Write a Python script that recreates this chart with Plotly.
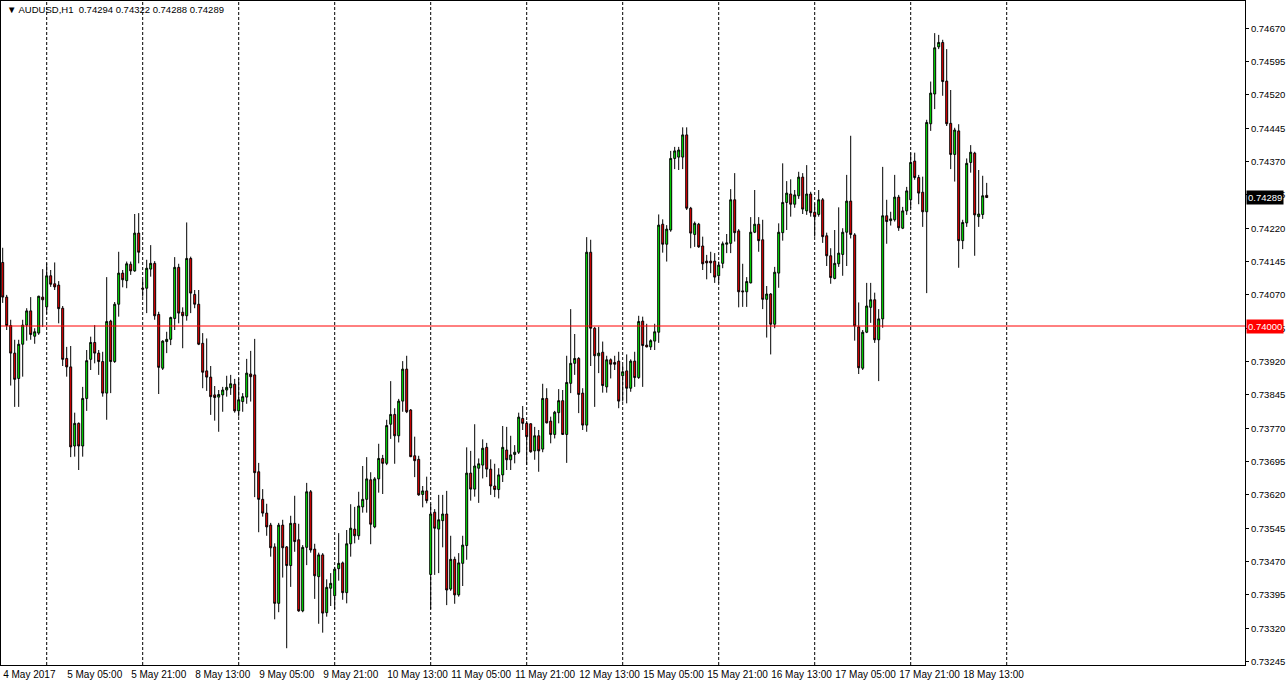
import plotly.graph_objects as go

# ---------------- data (AUDUSD, H1) ----------------
opens = [0.74143, 0.74065, 0.74001, 0.73939, 0.73882, 0.73959, 0.74002, 0.74034, 0.73977, 0.73984,
         0.74065, 0.74043, 0.74113, 0.74095, 0.74092, 0.74040, 0.73927, 0.73908, 0.73730, 0.73781,
         0.73730, 0.73837, 0.73925, 0.73963, 0.73939, 0.73920, 0.73849, 0.74011, 0.73920, 0.74049,
         0.74119, 0.74102, 0.74139, 0.74124, 0.74209, 0.74085, 0.74085, 0.74128, 0.74141, 0.74026,
         0.73905, 0.73965, 0.73970, 0.74017, 0.74132, 0.74031, 0.74023, 0.74152, 0.74071, 0.74049,
         0.73961, 0.73899, 0.73885, 0.73845, 0.73840, 0.73845, 0.73856, 0.73861, 0.73869, 0.73809,
         0.73830, 0.73840, 0.73892, 0.73890, 0.73672, 0.73610, 0.73579, 0.73552, 0.73503, 0.73376,
         0.73552, 0.73503, 0.73461, 0.73556, 0.73519, 0.73359, 0.73502, 0.73627, 0.73498, 0.73436,
         0.73485, 0.73355, 0.73410, 0.73393, 0.73454, 0.73467, 0.73400, 0.73510, 0.73543, 0.73528,
         0.73593, 0.73610, 0.73654, 0.73548, 0.73656, 0.73702, 0.73691, 0.73779, 0.73801, 0.73753,
         0.73831, 0.73903, 0.73811, 0.73708, 0.73700, 0.73621, 0.73629, 0.73441, 0.73581, 0.73543,
         0.73562, 0.73577, 0.73408, 0.73475, 0.73395, 0.73466, 0.73506, 0.73669, 0.73633, 0.73680,
         0.73687, 0.73727, 0.73678, 0.73640, 0.73632, 0.73665, 0.73721, 0.73699, 0.73711, 0.73716,
         0.73792, 0.73781, 0.73780, 0.73719, 0.73753, 0.73723, 0.73837, 0.73786, 0.73756, 0.73805,
         0.73832, 0.73756, 0.73871, 0.73916, 0.73927, 0.73849, 0.73777, 0.74166, 0.73995, 0.73933,
         0.73941, 0.73863, 0.73924, 0.73918, 0.73921, 0.73888, 0.73899, 0.73860, 0.73921, 0.73884,
         0.74011, 0.73957, 0.73953, 0.73966, 0.73986, 0.74229, 0.74184, 0.74216, 0.74377, 0.74380,
         0.74380, 0.74430, 0.74265, 0.74206, 0.74229, 0.74180, 0.74146, 0.74146, 0.74146, 0.74113,
         0.74141, 0.74184, 0.74186, 0.74284, 0.74214, 0.74079, 0.74077, 0.74097, 0.74211, 0.74229,
         0.74194, 0.74060, 0.74072, 0.74004, 0.74119, 0.74210, 0.74278, 0.74297, 0.74274, 0.74293,
         0.74335, 0.74259, 0.74297, 0.74256, 0.74251, 0.74284, 0.74203, 0.74158, 0.74107, 0.74140,
         0.74161, 0.74211, 0.74281, 0.74205, 0.73998, 0.73905, 0.73986, 0.74042, 0.74059, 0.73969,
         0.74016, 0.74248, 0.74237, 0.74239, 0.74290, 0.74220, 0.74259, 0.74284, 0.74371, 0.74334,
         0.74301, 0.74257, 0.74455, 0.74522, 0.74628, 0.74638, 0.74551, 0.74456, 0.74386, 0.74439,
         0.74192, 0.74232, 0.74368, 0.74389, 0.74246, 0.74251, 0.74294]

highs = [0.74176, 0.74070, 0.74014, 0.73969, 0.73969, 0.74014, 0.74040, 0.74065, 0.73995, 0.74068,
         0.74128, 0.74141, 0.74126, 0.74143, 0.74101, 0.74045, 0.73953, 0.73955, 0.73805, 0.73783,
         0.73863, 0.73946, 0.73976, 0.74002, 0.73946, 0.73942, 0.74110, 0.74014, 0.74054, 0.74167,
         0.74126, 0.74145, 0.74145, 0.74252, 0.74254, 0.74104, 0.74149, 0.74182, 0.74146, 0.74032,
         0.73968, 0.73987, 0.74021, 0.74155, 0.74140, 0.74042, 0.74233, 0.74156, 0.74081, 0.74081,
         0.73984, 0.73972, 0.73910, 0.73865, 0.73856, 0.73863, 0.73888, 0.73890, 0.73881, 0.73882,
         0.73849, 0.73926, 0.73944, 0.73971, 0.73692, 0.73633, 0.73600, 0.73557, 0.73511, 0.73557,
         0.73564, 0.73505, 0.73573, 0.73618, 0.73555, 0.73507, 0.73647, 0.73631, 0.73510, 0.73490,
         0.73489, 0.73430, 0.73444, 0.73458, 0.73534, 0.73470, 0.73541, 0.73599, 0.73593, 0.73627,
         0.73685, 0.73705, 0.73671, 0.73660, 0.73735, 0.73710, 0.73789, 0.73876, 0.73815, 0.73836,
         0.73921, 0.73933, 0.73813, 0.73751, 0.73708, 0.73640, 0.73661, 0.73600, 0.73588, 0.73620,
         0.73620, 0.73629, 0.73528, 0.73481, 0.73489, 0.73528, 0.73727, 0.73719, 0.73779, 0.73702,
         0.73745, 0.73737, 0.73700, 0.73690, 0.73680, 0.73775, 0.73773, 0.73753, 0.73732, 0.73805,
         0.73820, 0.73786, 0.73781, 0.73773, 0.73766, 0.73870, 0.73860, 0.73796, 0.73809, 0.73858,
         0.73856, 0.73933, 0.74038, 0.73982, 0.73930, 0.73860, 0.74200, 0.74194, 0.73998, 0.73998,
         0.73965, 0.73933, 0.73927, 0.73933, 0.73942, 0.73912, 0.73936, 0.73925, 0.73942, 0.74023,
         0.74021, 0.74005, 0.73970, 0.74005, 0.74251, 0.74240, 0.74227, 0.74394, 0.74403, 0.74403,
         0.74447, 0.74447, 0.74268, 0.74235, 0.74232, 0.74201, 0.74160, 0.74167, 0.74164, 0.74145,
         0.74190, 0.74207, 0.74308, 0.74344, 0.74218, 0.74140, 0.74110, 0.74245, 0.74306, 0.74245,
         0.74239, 0.74090, 0.74074, 0.74133, 0.74231, 0.74366, 0.74326, 0.74330, 0.74306, 0.74347,
         0.74344, 0.74362, 0.74302, 0.74276, 0.74306, 0.74288, 0.74210, 0.74175, 0.74216, 0.74267,
         0.74220, 0.74340, 0.74428, 0.74209, 0.74053, 0.73991, 0.74097, 0.74097, 0.74075, 0.74038,
         0.74358, 0.74284, 0.74257, 0.74340, 0.74295, 0.74268, 0.74313, 0.74390, 0.74390, 0.74340,
         0.74336, 0.74464, 0.74550, 0.74659, 0.74655, 0.74644, 0.74623, 0.74531, 0.74446, 0.74454,
         0.74239, 0.74377, 0.74407, 0.74392, 0.74351, 0.74338, 0.74322]

lows = [0.74052, 0.73991, 0.73866, 0.73818, 0.73818, 0.73886, 0.73967, 0.73969, 0.73960, 0.73980,
        0.73998, 0.74027, 0.74088, 0.74081, 0.74006, 0.73910, 0.73886, 0.73705, 0.73706, 0.73676,
        0.73706, 0.73809, 0.73901, 0.73916, 0.73890, 0.73841, 0.73789, 0.73849, 0.73917, 0.74021,
        0.74087, 0.74085, 0.74115, 0.74122, 0.74141, 0.74066, 0.74029, 0.74111, 0.74014, 0.73847,
        0.73901, 0.73939, 0.73957, 0.73991, 0.74006, 0.73950, 0.74012, 0.74029, 0.74040, 0.73957,
        0.73860, 0.73854, 0.73800, 0.73787, 0.73762, 0.73807, 0.73841, 0.73845, 0.73805, 0.73796,
        0.73807, 0.73825, 0.73830, 0.73615, 0.73536, 0.73571, 0.73528, 0.73481, 0.73340, 0.73356,
        0.73434, 0.73275, 0.73413, 0.73492, 0.73357, 0.73356, 0.73462, 0.73490, 0.73386, 0.73330,
        0.73310, 0.73346, 0.73370, 0.73363, 0.73427, 0.73384, 0.73376, 0.73481, 0.73511, 0.73519,
        0.73580, 0.73580, 0.73509, 0.73545, 0.73625, 0.73622, 0.73687, 0.73746, 0.73690, 0.73738,
        0.73807, 0.73804, 0.73705, 0.73660, 0.73618, 0.73592, 0.73601, 0.73363, 0.73440, 0.73444,
        0.73502, 0.73372, 0.73404, 0.73375, 0.73391, 0.73415, 0.73474, 0.73607, 0.73616, 0.73602,
        0.73657, 0.73660, 0.73620, 0.73615, 0.73612, 0.73649, 0.73676, 0.73676, 0.73691, 0.73712,
        0.73766, 0.73687, 0.73715, 0.73699, 0.73672, 0.73716, 0.73781, 0.73736, 0.73747, 0.73781,
        0.73755, 0.73692, 0.73849, 0.73890, 0.73804, 0.73766, 0.73762, 0.73910, 0.73818, 0.73894,
        0.73850, 0.73850, 0.73882, 0.73901, 0.73815, 0.73830, 0.73826, 0.73852, 0.73863, 0.73881,
        0.73863, 0.73952, 0.73946, 0.73946, 0.73962, 0.74165, 0.74145, 0.74212, 0.74353, 0.74351,
        0.74353, 0.74261, 0.74175, 0.74178, 0.74176, 0.74126, 0.74105, 0.74119, 0.74097, 0.74096,
        0.74130, 0.74164, 0.74164, 0.74190, 0.74042, 0.74043, 0.74043, 0.74096, 0.74209, 0.74167,
        0.74038, 0.73974, 0.73936, 0.73995, 0.74086, 0.74192, 0.74216, 0.74246, 0.74266, 0.74286,
        0.74252, 0.74250, 0.74246, 0.74201, 0.74246, 0.74187, 0.74135, 0.74095, 0.74105, 0.74133,
        0.74113, 0.74135, 0.74197, 0.73967, 0.73892, 0.73901, 0.73984, 0.74007, 0.73962, 0.73876,
        0.73996, 0.74185, 0.74226, 0.74235, 0.74214, 0.74218, 0.74250, 0.74265, 0.74329, 0.74274,
        0.74223, 0.74074, 0.74439, 0.74488, 0.74623, 0.74518, 0.74450, 0.74353, 0.74325, 0.74131,
        0.74173, 0.74223, 0.74345, 0.74158, 0.74223, 0.74241, 0.74288]

closes = [0.74065, 0.74001, 0.73939, 0.73880, 0.73959, 0.74002, 0.74034, 0.73981, 0.73987, 0.74067,
          0.74059, 0.74113, 0.74094, 0.74088, 0.74039, 0.73925, 0.73908, 0.73728, 0.73781, 0.73730,
          0.73837, 0.73922, 0.73963, 0.73939, 0.73920, 0.73849, 0.74010, 0.73920, 0.74049, 0.74119,
          0.74104, 0.74140, 0.74124, 0.74209, 0.74166, 0.74083, 0.74130, 0.74141, 0.74023, 0.73907,
          0.73966, 0.73970, 0.74019, 0.74132, 0.74029, 0.74023, 0.74152, 0.74074, 0.74049, 0.73959,
          0.73896, 0.73885, 0.73841, 0.73839, 0.73846, 0.73856, 0.73862, 0.73870, 0.73809, 0.73834,
          0.73841, 0.73894, 0.73886, 0.73670, 0.73610, 0.73579, 0.73548, 0.73501, 0.73376, 0.73552,
          0.73501, 0.73461, 0.73556, 0.73515, 0.73359, 0.73502, 0.73627, 0.73496, 0.73438, 0.73485,
          0.73354, 0.73412, 0.73421, 0.73453, 0.73466, 0.73400, 0.73510, 0.73545, 0.73528, 0.73595,
          0.73610, 0.73656, 0.73554, 0.73656, 0.73702, 0.73691, 0.73776, 0.73801, 0.73753, 0.73831,
          0.73903, 0.73807, 0.73706, 0.73697, 0.73620, 0.73629, 0.73607, 0.73577, 0.73545, 0.73564,
          0.73577, 0.73406, 0.73475, 0.73395, 0.73467, 0.73507, 0.73669, 0.73633, 0.73685, 0.73690,
          0.73725, 0.73678, 0.73640, 0.73632, 0.73665, 0.73727, 0.73699, 0.73710, 0.73716, 0.73795,
          0.73781, 0.73751, 0.73717, 0.73753, 0.73719, 0.73837, 0.73782, 0.73756, 0.73806, 0.73832,
          0.73756, 0.73873, 0.73916, 0.73927, 0.73846, 0.73777, 0.74166, 0.73995, 0.73933, 0.73939,
          0.73866, 0.73924, 0.73914, 0.73914, 0.73831, 0.73897, 0.73860, 0.73921, 0.73884, 0.74010,
          0.73956, 0.73953, 0.73967, 0.73987, 0.74227, 0.74184, 0.74218, 0.74377, 0.74394, 0.74396,
          0.74430, 0.74265, 0.74209, 0.74231, 0.74178, 0.74140, 0.74142, 0.74142, 0.74110, 0.74137,
          0.74185, 0.74187, 0.74284, 0.74210, 0.74077, 0.74077, 0.74100, 0.74211, 0.74229, 0.74192,
          0.74060, 0.74072, 0.74004, 0.74121, 0.74211, 0.74278, 0.74299, 0.74274, 0.74295, 0.74335,
          0.74263, 0.74297, 0.74255, 0.74246, 0.74284, 0.74201, 0.74158, 0.74109, 0.74141, 0.74164,
          0.74211, 0.74281, 0.74206, 0.74000, 0.73906, 0.73986, 0.74045, 0.74059, 0.73969, 0.74016,
          0.74248, 0.74235, 0.74241, 0.74290, 0.74221, 0.74259, 0.74304, 0.74368, 0.74334, 0.74299,
          0.74257, 0.74458, 0.74524, 0.74626, 0.74638, 0.74550, 0.74455, 0.74386, 0.74441, 0.74192,
          0.74233, 0.74366, 0.74391, 0.74250, 0.74252, 0.74293, 0.74289]

bar_index = list(range(len(opens)))

time_tick_bars = [0, 16, 32, 48, 64, 80, 96, 112, 128, 144, 160, 176, 192, 208, 224, 240]
time_tick_labels = ["4 May 2017", "5 May 05:00", "5 May 21:00", "8 May 13:00", "9 May 05:00",
                    "9 May 21:00", "10 May 13:00", "11 May 05:00", "11 May 21:00", "12 May 13:00",
                    "15 May 05:00", "15 May 21:00", "16 May 13:00", "17 May 05:00", "17 May 21:00",
                    "18 May 13:00"]
day_start_bars = [11, 35, 59, 83, 107, 131, 155, 179, 203, 227, 251]

price_ticks = [0.74670, 0.74595, 0.74520, 0.74445, 0.74370, 0.74295, 0.74220, 0.74145, 0.74070,
               0.73995, 0.73920, 0.73845, 0.73770, 0.73695, 0.73620, 0.73545, 0.73470, 0.73395,
               0.73320, 0.73245]

symbol_title = "AUDUSD,H1"
level_price = 0.74000
last_price = closes[-1]

FONT = "Liberation Sans"

fig = go.Figure()
fig.add_trace(go.Candlestick(
    x=bar_index, open=opens, high=highs, low=lows, close=closes,
    increasing=dict(fillcolor="#00ff00", line=dict(color="black", width=1)),
    decreasing=dict(fillcolor="#ff0000", line=dict(color="black", width=1)),
    whiskerwidth=0, hoverinfo="skip", showlegend=False,
))

shapes = []
for b in day_start_bars:
    shapes.append(dict(type="line", xref="x", yref="paper", x0=b, x1=b, y0=0, y1=1,
                       line=dict(color="black", width=1, dash="3px,2px"), layer="below"))
shapes.append(dict(type="line", xref="paper", yref="y", x0=0, x1=1, y0=level_price, y1=level_price,
                   line=dict(color="#ff0000", width=1), layer="above"))

header = "\u25BC " + symbol_title + "\u00a0\u00a0" + " ".join(
    f"{v:.5f}" for v in (opens[-1], highs[-1], lows[-1], closes[-1]))

annotations = [
    dict(xref="paper", yref="paper", x=0, y=1, xanchor="left", yanchor="top", xshift=4, yshift=-1,
         text=header, showarrow=False, font=dict(family=FONT, size=9.5, color="black")),
    dict(xref="paper", yref="y", x=1, y=last_price, xanchor="left", yanchor="middle", xshift=1,
         text=f"{last_price:.5f}", showarrow=False, bgcolor="black", borderpad=1,
         font=dict(family=FONT, size=9.5, color="white")),
    dict(xref="paper", yref="y", x=1, y=level_price, xanchor="left", yanchor="middle", xshift=1,
         text=f"{level_price:.5f}", showarrow=False, bgcolor="#ff0000", borderpad=1,
         font=dict(family=FONT, size=9.5, color="white")),
]

fig.update_layout(
    width=1288, height=687, autosize=False,
    margin=dict(l=1, r=43, t=1, b=22, pad=0, autoexpand=False),
    paper_bgcolor="white", plot_bgcolor="white",
    showlegend=False,
    shapes=shapes, annotations=annotations,
    xaxis=dict(range=[-0.425, 310.575], tickmode="array", tickvals=time_tick_bars,
               ticktext=time_tick_labels, ticklabelposition="outside right", tickangle=0,
               automargin=False,
               showgrid=False, zeroline=False, showline=True, mirror=True,
               linecolor="black", linewidth=1, ticks="",
               tickfont=dict(family=FONT, size=10, color="black"),
               rangeslider=dict(visible=False), fixedrange=True),
    yaxis=dict(side="right", range=[0.7323725, 0.7473125], tickmode="array", automargin=False,
               tickvals=price_ticks, tickformat=".5f", ticks="outside", ticklen=3,
               tickcolor="black", showgrid=False, zeroline=False, showline=True, mirror=True,
               linecolor="black", linewidth=1,
               tickfont=dict(family=FONT, size=9.5, color="black"), fixedrange=True),
)

fig.write_html("out.html", config={"displayModeBar": False},
               post_script="document.body.style.margin='0';")
